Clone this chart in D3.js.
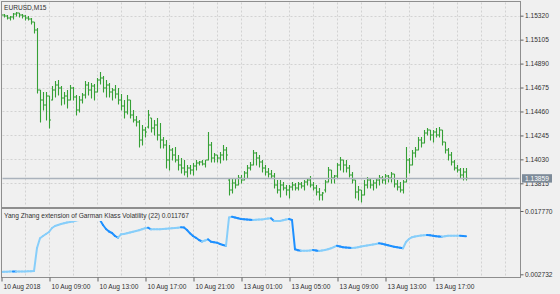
<!DOCTYPE html>
<meta charset="utf-8">
<style>
body { margin: 0; background: #f0f0f0; }
svg { display: block; }
text { font-family: "Liberation Sans", Arial, sans-serif; font-size: 6.6px; fill: #303030; }
.grid { stroke: #d2d2d2; stroke-dasharray: 2,2; stroke-width: 1; }
.frame { fill: none; stroke: #8e8e8e; stroke-width: 1; }
.axis path { display: none; }
.axis line { stroke: #606060; }
</style>
<svg width="560" height="294"></svg>
<script src="https://cdn.jsdelivr.net/npm/d3@7"></script>
<script>

// EURUSD M15, 10-13 Aug 2018, one entry per bar
var opens = [1.15317,1.15326,1.15317,1.15299,1.15308,1.15335,1.15344,1.15326,1.15317,1.15299,1.15290,1.15263,
  1.15192,
  1.14653,1.14563,1.14518,1.14599,1.14563,1.14653,1.14698,1.14671,1.14581,1.14599,1.14563,1.14671,
  1.14590,1.14473,1.14563,1.14608,1.14698,1.14653,1.14689,1.14635,1.14743,1.14761,1.14671,1.14698,1.14635,
  1.14653,1.14617,1.14563,1.14509,1.14455,1.14563,1.14428,
  1.14383,
  1.14365,1.14204,1.14294,1.14321,1.14401,
  1.14312,1.14339,1.14249,1.14204,1.14159,1.14024,1.14114,1.14069,1.14024,1.13979,1.13952,1.13916,
  1.13952,1.13934,1.13970,1.13997,1.14006,1.13988,1.14024,1.14159,1.14042,1.14069,1.14042,1.14069,1.14114,
  1.13845,1.13755,1.13818,1.13800,1.13863,1.13845,1.13907,1.13952,1.13979,1.14087,1.14042,1.14006,1.13952,1.13916,1.13898,
  1.13881,1.13800,1.13755,1.13800,1.13773,1.13755,1.13782,1.13800,1.13773,1.13809,1.13791,1.13827,1.13845,1.13800,1.13773,1.13737,1.13710,
  1.13755,1.13827,1.13934,1.13863,1.13881,1.13979,1.14024,1.13979,1.13952,1.13890,1.13845,1.13737,1.13755,
  1.13710,1.13800,1.13845,1.13800,1.13818,1.13845,1.13863,1.13845,1.13881,1.13863,1.13898,1.13809,1.13782,1.13755,
  1.13827,1.14024,1.13979,1.14087,1.14114,1.14204,1.14177,1.14267,1.14294,1.14249,1.14276,1.14249,1.14294,1.14186,1.14114,1.14069,1.14006,1.13952,1.13934,1.13890,1.13916];

var highs = [1.15335,1.15335,1.15326,1.15317,1.15344,1.15353,1.15344,1.15335,1.15326,1.15317,1.15299,1.15263,
  1.15210,
  1.14653,1.14635,1.14635,1.14599,1.14689,1.14734,1.14743,1.14689,1.14635,1.14653,1.14698,1.14680,
  1.14608,1.14599,1.14626,1.14734,1.14725,1.14716,1.14707,1.14761,1.14814,1.14779,1.14743,1.14716,1.14671,
  1.14698,1.14671,1.14617,1.14563,1.14608,1.14563,1.14473,
  1.14419,
  1.14383,1.14339,1.14321,1.14473,1.14401,
  1.14383,1.14401,1.14356,1.14231,1.14204,1.14159,1.14132,1.14141,1.14069,1.14042,1.14024,1.13979,
  1.13979,1.13997,1.14024,1.14015,1.14024,1.14024,1.14276,1.14186,1.14087,1.14069,1.14096,1.14159,1.14141,
  1.13863,1.13863,1.13863,1.13890,1.13890,1.13925,1.13979,1.14006,1.14114,1.14096,1.14069,1.14024,1.13979,1.13952,1.13934,
  1.13907,1.13845,1.13845,1.13827,1.13800,1.13800,1.13827,1.13818,1.13827,1.13827,1.13845,1.13863,1.13881,1.13827,1.13800,1.13773,1.13737,
  1.13845,1.13961,1.13934,1.13890,1.13997,1.14051,1.14024,1.14024,1.13979,1.13916,1.13845,1.13791,1.13755,
  1.13845,1.13872,1.13863,1.13845,1.13863,1.13890,1.13881,1.13898,1.13890,1.13916,1.13898,1.13845,1.13827,1.13845,
  1.14141,1.14042,1.14114,1.14141,1.14231,1.14231,1.14294,1.14312,1.14294,1.14294,1.14312,1.14321,1.14294,1.14186,1.14132,1.14096,1.14024,1.13979,1.13952,1.13952,1.13952];

var lows = [1.15308,1.15308,1.15290,1.15281,1.15290,1.15317,1.15308,1.15299,1.15281,1.15281,1.15245,1.15165,
  1.14626,
  1.14365,1.14473,1.14383,1.14312,1.14563,1.14590,1.14608,1.14518,1.14527,1.14491,1.14563,1.14563,
  1.14428,1.14455,1.14536,1.14581,1.14608,1.14581,1.14563,1.14635,1.14707,1.14635,1.14590,1.14590,1.14563,
  1.14581,1.14527,1.14473,1.14401,1.14437,1.14401,1.14365,
  1.14330,
  1.14141,1.14159,1.14231,1.14312,1.14276,
  1.14249,1.14204,1.14132,1.14132,1.13952,1.13934,1.14024,1.14006,1.13934,1.13907,1.13890,1.13872,
  1.13898,1.13890,1.13934,1.13979,1.13979,1.13961,1.14024,1.14006,1.14006,1.14006,1.13997,1.14024,1.14024,
  1.13710,1.13728,1.13773,1.13800,1.13818,1.13845,1.13863,1.13934,1.13979,1.13979,1.13961,1.13916,1.13890,1.13872,1.13863,
  1.13773,1.13728,1.13692,1.13755,1.13710,1.13683,1.13755,1.13755,1.13755,1.13773,1.13755,1.13800,1.13782,1.13755,1.13710,1.13665,1.13665,
  1.13737,1.13827,1.13818,1.13818,1.13863,1.13934,1.13916,1.13916,1.13872,1.13818,1.13683,1.13665,1.13647,
  1.13710,1.13773,1.13773,1.13755,1.13773,1.13800,1.13818,1.13809,1.13827,1.13827,1.13782,1.13755,1.13737,1.13728,
  1.13827,1.13907,1.13979,1.14051,1.14114,1.14141,1.14177,1.14249,1.14204,1.14186,1.14231,1.14231,1.14159,1.14087,1.14024,1.13979,1.13934,1.13916,1.13863,1.13845,1.13845];

var closes = [1.15326,1.15317,1.15299,1.15308,1.15335,1.15344,1.15326,1.15317,1.15299,1.15290,1.15263,1.15192,
  1.14653,
  1.14563,1.14518,1.14599,1.14383,1.14653,1.14698,1.14671,1.14581,1.14599,1.14563,1.14671,1.14590,
  1.14473,1.14563,1.14608,1.14698,1.14653,1.14689,1.14635,1.14743,1.14761,1.14671,1.14698,1.14635,1.14653,
  1.14617,1.14563,1.14509,1.14455,1.14563,1.14428,1.14383,
  1.14365,
  1.14204,1.14294,1.14276,1.14428,1.14312,
  1.14339,1.14249,1.14204,1.14159,1.14024,1.14114,1.14069,1.14024,1.13979,1.13952,1.13916,1.13952,
  1.13934,1.13970,1.13997,1.14006,1.13988,1.14024,1.14159,1.14042,1.14069,1.14042,1.14069,1.14114,1.14069,
  1.13755,1.13818,1.13800,1.13863,1.13845,1.13907,1.13952,1.13979,1.14087,1.14042,1.14006,1.13952,1.13916,1.13898,1.13881,
  1.13800,1.13755,1.13800,1.13773,1.13755,1.13782,1.13800,1.13773,1.13809,1.13791,1.13827,1.13845,1.13800,1.13773,1.13737,1.13710,1.13728,
  1.13827,1.13934,1.13863,1.13881,1.13979,1.14024,1.13979,1.13952,1.13890,1.13845,1.13737,1.13755,1.13710,
  1.13800,1.13845,1.13800,1.13818,1.13845,1.13863,1.13845,1.13881,1.13863,1.13898,1.13809,1.13782,1.13755,1.13827,
  1.14024,1.13979,1.14087,1.14114,1.14204,1.14177,1.14267,1.14294,1.14249,1.14276,1.14249,1.14294,1.14186,1.14114,1.14069,1.14006,1.13952,1.13934,1.13890,1.13916,1.13859];

// Yang Zhang extension of Garman Klass volatility (22)
var volatility = [0.003276,0.003324,0.003324,0.003371,0.003395,0.003371,0.003395,0.003419,0.003419,0.003443,0.003443,0.003514,
  0.008979,0.011284,0.011830,0.012305,0.012780,0.013731,0.014206,0.014444,0.014681,0.014848,0.015038,0.015156,
  0.015275,0.015513,0.015632,0.015798,0.016344,0.016938,0.017414,0.017770,0.017532,0.015632,0.014444,0.013493,
  0.012899,0.012543,0.011830,0.011426,0.012234,0.012305,0.012472,0.012662,0.012852,0.013018,0.013184,0.013422,
  0.013660,0.013802,0.013422,0.013422,0.013422,0.013422,0.013493,0.013541,0.013612,0.013683,0.013731,0.013802,
  0.013897,0.013850,0.013256,0.012472,0.011830,0.011402,0.010880,0.010523,0.010761,0.011046,0.010476,0.010333,
  0.010238,0.009929,0.009692,0.009525,0.016226,0.016416,0.016226,0.016036,0.015869,0.015798,0.015727,0.015679,
  0.015632,0.015679,0.015727,0.015774,0.015869,0.015964,0.016036,0.015394,0.015394,0.015394,0.015560,0.015750,
  0.015869,0.015632,0.008670,0.008432,0.008337,0.008337,0.008337,0.008385,0.008504,0.008385,0.008266,0.008385,
  0.008504,0.008670,0.008908,0.009216,0.009525,0.009335,0.009145,0.009098,0.009050,0.008979,0.009026,0.009169,
  0.009335,0.009454,0.009573,0.009692,0.009810,0.009929,0.010096,0.009977,0.009810,0.009644,0.009454,0.009288,
  0.009169,0.009050,0.008908,0.010404,0.011117,0.011545,0.011711,0.011830,0.011925,0.011996,0.012068,0.011996,
  0.011901,0.011782,0.011711,0.011664,0.011782,0.011901,0.011901,0.011901,0.011901,0.011901,0.011830,0.011767];

var priceTicks = [1.15320, 1.15105, 1.14890, 1.14675, 1.14460, 1.14245, 1.14030, 1.13815];
var volTicks = [0.017770, 0.002732];
var timeTickBars = [0, 16, 32, 48, 64, 80, 96, 112, 128, 144];
var timeTickLabels = ["10 Aug 2018", "10 Aug 09:00", "10 Aug 13:00", "10 Aug 17:00", "10 Aug 21:00",
  "13 Aug 01:00", "13 Aug 05:00", "13 Aug 09:00", "13 Aug 13:00", "13 Aug 17:00"];
var lastPrice = 1.13859;

var svg = d3.select("svg");

var main = {left: 1.5, right: 520.5, top: 1.5, bottom: 207.5},
    sub = {left: 1.5, right: 520.5, top: 208.5, bottom: 277.5};

var x = d3.scaleLinear().domain([0, closes.length - 1]).range([1, 466]);
var y = d3.scaleLinear().domain([1.13815, 1.15320]).range([183.3, 15.7]);
var yv = d3.scaleLinear().domain([0.002732, 0.017770]).range([274.3, 211]);

svg.append("clipPath").attr("id", "clipMain").append("rect")
    .attr("x", main.left).attr("y", main.top)
    .attr("width", main.right - main.left).attr("height", main.bottom - main.top);
svg.append("clipPath").attr("id", "clipSub").append("rect")
    .attr("x", sub.left).attr("y", sub.top)
    .attr("width", sub.right - sub.left).attr("height", sub.bottom - sub.top);

// grid: vertical every 8 bars, horizontal on price ticks
var gridBars = d3.range(8, 169, 8);
var grid = svg.append("g");
grid.selectAll(".vm").data(gridBars).enter().append("line")
    .attr("class", "grid")
    .attr("x1", function(d) { return Math.round(x(d)) + 0.5; })
    .attr("x2", function(d) { return Math.round(x(d)) + 0.5; })
    .attr("y1", main.top + 1).attr("y2", main.bottom - 1);
grid.selectAll(".vs").data(gridBars).enter().append("line")
    .attr("class", "grid")
    .attr("x1", function(d) { return Math.round(x(d)) + 0.5; })
    .attr("x2", function(d) { return Math.round(x(d)) + 0.5; })
    .attr("y1", sub.top + 1).attr("y2", sub.bottom - 1);
grid.selectAll(".h").data(priceTicks).enter().append("line")
    .attr("class", "grid")
    .attr("x1", main.left + 1).attr("x2", main.right - 1)
    .attr("y1", function(d) { return Math.round(y(d)) + 0.5; })
    .attr("y2", function(d) { return Math.round(y(d)) + 0.5; });

// OHLC bars
var bars = svg.append("g").attr("clip-path", "url(#clipMain)")
    .attr("stroke", "#35a035").attr("stroke-width", 1.1).attr("fill", "none");
bars.selectAll("path").data(closes).enter().append("path")
    .attr("d", function(c, i) {
      var xi = x(i) + 0.5;
      return "M" + xi + "," + y(highs[i]) + "V" + (y(lows[i]) + 0.5) +
             "M" + (xi - 1.5) + "," + y(opens[i]) + "H" + xi +
             "M" + xi + "," + y(c) + "H" + (xi + 1.5);
    });

// bid line
svg.append("line")
    .attr("x1", main.left + 1).attr("x2", main.right - 1)
    .attr("y1", y(lastPrice)).attr("y2", y(lastPrice))
    .attr("stroke", "#aab2bc").attr("stroke-width", 1.5);

// indicator line, light when rising, dark when falling
var volLine = svg.append("g").attr("clip-path", "url(#clipSub)")
    .attr("stroke-width", 2).attr("fill", "none").attr("stroke-linecap", "round");
volLine.selectAll("line").data(d3.range(1, volatility.length)).enter().append("line")
    .attr("x1", function(i) { return x(i - 1); })
    .attr("x2", function(i) { return x(i); })
    .attr("y1", function(i) { return yv(volatility[i - 1]); })
    .attr("y2", function(i) { return yv(volatility[i]); })
    .attr("stroke", function(i) { return volatility[i] >= volatility[i - 1] ? "#87cefa" : "#1e90ff"; });

// labels inside panels
svg.append("text").attr("x", 4).attr("y", 9.5).text("EURUSD,M15");
var lbl = svg.append("g");
var lblText = lbl.append("text").attr("x", 4).attr("y", 218)
    .text("Yang Zhang extension of Garman Klass Volatility (22) " + volatility[volatility.length - 1].toFixed(6));
var bb = lblText.node().getBBox();
lbl.insert("rect", "text")
    .attr("x", bb.x - 1).attr("y", sub.top + 1)
    .attr("width", bb.width + 2).attr("height", bb.y + bb.height - sub.top)
    .attr("fill", "#f0f0f0");

// frames
svg.append("rect").attr("class", "frame")
    .attr("x", main.left).attr("y", main.top)
    .attr("width", main.right - main.left).attr("height", main.bottom - main.top);
svg.append("rect").attr("class", "frame")
    .attr("x", sub.left).attr("y", sub.top)
    .attr("width", sub.right - sub.left).attr("height", sub.bottom - sub.top);

// price axis
svg.append("g").attr("class", "axis")
    .attr("transform", "translate(" + main.right + ",0)")
    .call(d3.axisRight(y).tickValues(priceTicks).tickFormat(d3.format(".5f")).tickSize(3).tickPadding(1.5));

svg.append("g").attr("class", "axis")
    .attr("transform", "translate(" + sub.right + ",0)")
    .call(d3.axisRight(yv).tickValues(volTicks).tickFormat(d3.format(".6f")).tickSize(3).tickPadding(1.5));

// current price tag
var tag = svg.append("g").attr("transform", "translate(522," + y(lastPrice) + ")");
tag.append("rect").attr("x", 0).attr("y", -4.2).attr("width", 30).attr("height", 8.4).attr("fill", "#7d8b99");
tag.append("text").attr("x", 3).attr("dy", "0.35em").style("fill", "#ffffff").text(d3.format(".5f")(lastPrice));

// time axis
var tAxis = svg.append("g").attr("class", "axis")
    .attr("transform", "translate(0," + sub.bottom + ")")
    .call(d3.axisBottom(x).tickValues(timeTickBars)
      .tickFormat(function(d, i) { return timeTickLabels[i]; }).tickSize(4).tickPadding(3));
tAxis.selectAll(".tick line").attr("transform", "translate(0.5,0)");
tAxis.selectAll(".tick text").attr("text-anchor", "start").attr("x", 2);

</script>
